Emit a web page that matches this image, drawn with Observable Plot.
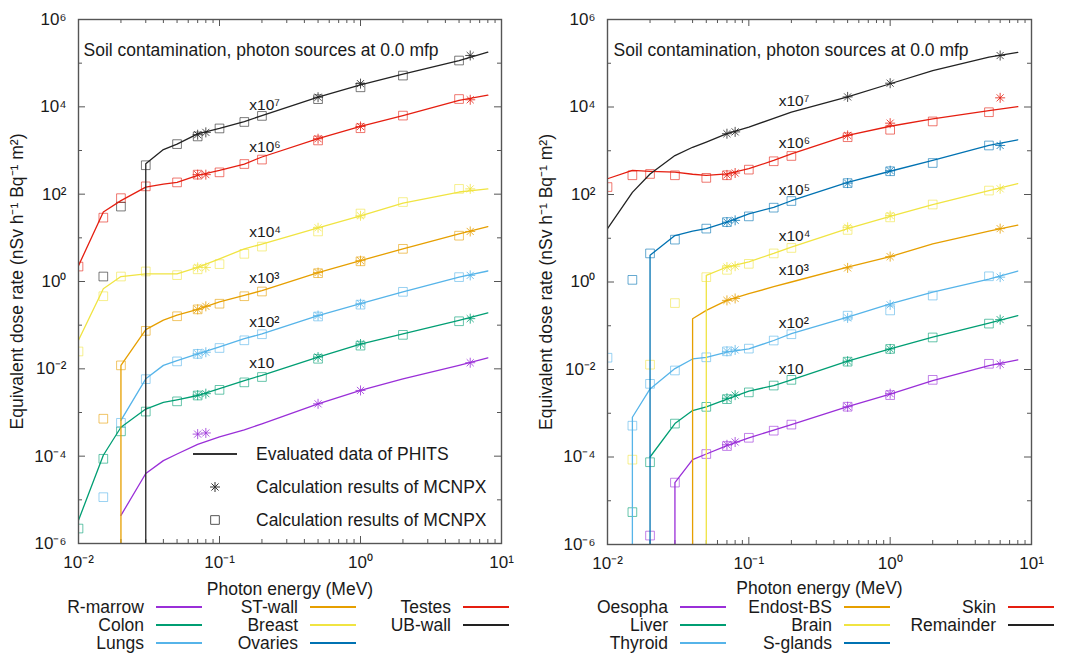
<!DOCTYPE html>
<html><head><meta charset="utf-8">
<script src="https://cdn.jsdelivr.net/npm/d3@7"></script>
<script src="https://cdn.jsdelivr.net/npm/@observablehq/plot@0.6"></script>
<style>
body{margin:0;background:#fff;font-family:"Liberation Sans",Arial,Helvetica,sans-serif;}
#root{position:relative;width:1073px;height:654px;overflow:hidden;background:#fff;}
.panel{position:absolute;top:0;}
.txt{position:absolute;font-size:17.5px;color:#1a1a1a;white-space:nowrap;line-height:16px;}
.sw{position:absolute;height:1.6px;}
#root g[aria-label="x-axis tick label"] text, #root g[aria-label="y-axis tick label"] text{font-size:17px;}
#root g[aria-label="x-axis label"] text, #root g[aria-label="y-axis label"] text{font-size:17.5px;}
</style></head><body><div id="root"></div><script>
// ---------- shared axes / energies ----------
const lineE   = [0.01,0.015,0.02,0.03,0.04,0.05,0.07,0.1,0.15,0.2,0.5,1,2,5,8];
const squareE = [0.01,0.015,0.02,0.03,0.05,0.07,0.1,0.15,0.2,0.5,1,2,5];
const starE   = [0.07,0.08,0.5,1,6];
const xTicks = [0.01,0.1,1,10];
const yTicks = [1e-6,1e-4,1e-2,1,1e2,1e4,1e6];
const yMinorTicks = [1e-5,1e-3,1e-1,1e1,1e3,1e5];
const palette = ["#9a2fd8","#009e73","#56b4e9","#e69f00","#f0e442","#0072b2","#e51e10","#222222"];
const titleText = "Soil contamination, photon sources at 0.0 mfp";
const xLabel = "Photon energy (MeV)";
const yLabel = "Equivalent dose rate (nSv h\u207B\u00B9 Bq\u207B\u00B9 m\u00B2)";
const legendInside = ["Evaluated data of PHITS","Calculation results of MCNPX","Calculation results of MCNPX"];

// ---------- left panel ----------
const leftNames  = ["R-marrow","Colon","Lungs","ST-wall","Breast","Ovaries","Testes","UB-wall"];
const leftLabels = [null,"x10","x10\u00B2","x10\u00B3","x10\u2074",null,"x10\u2076","x10\u2077"];
const rmarrowLine = [null,null,4.4e-6,4.0e-5,7.9e-5,1.12e-4,1.86e-4,2.75e-4,4.0e-4,5.5e-4,1.58e-3,3.2e-3,5.9e-3,0.012,0.0178];
const colonLine   = [3.4e-6,1.05e-4,4.6e-4,1.2e-3,1.7e-3,1.95e-3,2.45e-3,3.5e-3,5.4e-3,7.1e-3,0.0186,0.037,0.063,0.129,0.19];
const lungsLine   = [null,null,6.6e-4,5.9e-3,0.012,0.0155,0.022,0.032,0.049,0.063,0.166,0.31,0.58,1.26,1.74];
const stwallLine  = [null,null,0.012,0.079,0.13,0.17,0.23,0.34,0.48,0.62,1.6,3.0,5.6,12.3,18];
const breastLine  = [0.045,0.68,1.3,1.5,1.5,1.5,2.1,3.3,5.6,7.2,17,32,62,112,132];
const testesLine  = [2.3,39,71,145,170,186,270,350,490,710,1860,3550,6300,1.41e4,1.86e4];
const ubwallLine  = [null,null,null,500,1050,1400,2400,3200,4600,6300,1.66e4,3.2e4,5.6e4,1.15e5,1.78e5];
const colonSq  = [2.2e-6,8.7e-5,3.7e-4,1.05e-3,1.8e-3,2.45e-3,3.3e-3,4.9e-3,6.5e-3,0.017,0.034,0.06,0.123];
const lungsSq  = [null,1.15e-5,5.8e-4,5.8e-3,0.0148,0.022,0.030,0.045,0.062,0.158,0.295,0.58,1.26];
const stwallSq = [null,7.2e-4,0.012,0.074,0.16,0.23,0.31,0.46,0.59,1.55,2.9,5.6,11.2];
const breastSq = [0.025,0.46,1.3,1.7,1.4,1.9,2.5,4.3,6.3,14,36,66,132];
const testesSq = [2.2,29,81,151,186,280,316,490,620,1700,3240,6300,1.51e4];
const ubwallSq = [null,1.3,52,460,1400,2100,3200,4500,6200,1.5e4,2.8e4,5.2e4,1.15e5];
const rmarrowSt = [3.2e-4,3.4e-4,1.58e-3,3.2e-3,0.0138];
const colonSt   = [2.5e-3,2.7e-3,0.0186,0.037,0.141];
const lungsSt   = [0.022,0.024,0.166,0.31,1.38];
const stwallSt  = [0.23,0.27,1.6,3.0,14];
const breastSt  = [2.1,2.1,17,32,132];
const testesSt  = [280,280,1860,3550,1.45e4];
const ubwallSt  = [2300,2600,1.66e4,3.4e4,1.5e5];

// ---------- right panel ----------
const rightNames  = ["Oesopha","Liver","Thyroid","Endost-BS","Brain","S-glands","Skin","Remainder"];
const rightLabels = [null,"x10","x10\u00B2","x10\u00B3","x10\u2074","x10\u2075","x10\u2076","x10\u2077"];
const oesophaLine = [null,null,null,2.6e-5,8.7e-5,1.17e-4,1.82e-4,2.75e-4,4.1e-4,5.5e-4,1.41e-3,2.75e-3,5.6e-3,0.0123,0.0166];
const liverLine   = [null,null,1.0e-4,5.8e-4,1.15e-3,1.4e-3,2.1e-3,3.2e-3,4.3e-3,5.8e-3,0.0155,0.0295,0.055,0.115,0.17];
const thyroidLine = [null,8.1e-4,3.6e-3,0.0105,0.0174,0.019,0.025,0.0295,0.046,0.066,0.158,0.316,0.59,1.17,1.78];
const endostLine  = [null,null,null,null,0.145,0.224,0.38,0.54,0.78,1.0,2.2,3.8,7.4,14.5,20];
const brainLine   = [null,null,null,null,null,1.41,2.2,2.9,4.5,6.3,16.6,31.6,59,123,178];
const sglandsLine = [null,null,4.1,11.5,14.5,16.6,23.4,36,51,72,190,340,600,1320,1780];
const skinLine    = [229,355,339,324,290,275,295,390,600,850,2240,3630,5370,8300,1.02e4];
const remainLine  = [16.6,112,295,776,1200,1580,2450,3470,5500,7600,1.7e4,3.4e4,6.8e4,1.38e5,1.78e5];
const oesophaSq = [null,null,1.6e-6,2.6e-5,1.17e-4,1.78e-4,2.75e-4,4.0e-4,5.5e-4,1.41e-3,2.6e-3,5.8e-3,0.0135];
const liverSq   = [null,5.5e-6,7.6e-5,5.8e-4,1.4e-3,2.1e-3,3.0e-3,4.3e-3,5.8e-3,0.0151,0.0295,0.054,0.112];
const thyroidSq = [0.0186,5.2e-4,4.7e-3,9.5e-3,0.019,0.026,0.030,0.046,0.064,0.17,0.224,0.49,1.35];
const brainSq   = [null,8.7e-5,0.0129,0.33,1.29,1.9,2.6,4.5,6.0,15.5,30,59,123];
const sglandsSq = [null,1.12,4.5,9.3,16.6,23.4,31.6,50,71,182,340,525,1320];
const skinSq    = [148,275,295,275,240,275,370,575,760,2040,3020,4680,7600];
const oesophaSt = [1.9e-4,2.2e-4,1.41e-3,2.8e-3,0.0132];
const liverSt   = [2.2e-3,2.6e-3,0.0155,0.0295,0.138];
const thyroidSt = [0.026,0.028,0.151,0.30,1.29];
const endostSt  = [0.38,0.42,2.1,3.8,16.6];
const brainSt   = [2.2,2.3,17.8,33,135];
const sglandsSt = [23.4,25.7,182,350,1320];
const skinSt    = [280,310,2240,4270,1.62e4];
const remainSt  = [2450,2700,1.7e4,3.5e4,1.5e5];

// series that drop to (effectively) zero below their first energy
const ZERO = 1e-9;
const leftSeries = [
  {line: rmarrowLine, sq: null,     st: rmarrowSt, drop:false},
  {line: colonLine,   sq: colonSq,  st: colonSt,   drop:false},
  {line: lungsLine,   sq: lungsSq,  st: lungsSt,   drop:false},
  {line: stwallLine,  sq: stwallSq, st: stwallSt,  drop:true},
  {line: breastLine,  sq: breastSq, st: breastSt,  drop:false},
  {line: null,        sq: null,     st: null,      drop:false},
  {line: testesLine,  sq: testesSq, st: testesSt,  drop:false},
  {line: ubwallLine,  sq: ubwallSq, st: ubwallSt,  drop:true}
].map((s,i)=>({...s, name:leftNames[i], label:leftLabels[i], color:palette[i]}));
const rightSeries = [
  {line: oesophaLine, sq: oesophaSq, st: oesophaSt, drop:true},
  {line: liverLine,   sq: liverSq,   st: liverSt,   drop:false},
  {line: thyroidLine, sq: thyroidSq, st: thyroidSt, drop:true},
  {line: endostLine,  sq: null,      st: endostSt,  drop:true},
  {line: brainLine,   sq: brainSq,   st: brainSt,   drop:true},
  {line: sglandsLine, sq: sglandsSq, st: sglandsSt, drop:true},
  {line: skinLine,    sq: skinSq,    st: skinSt,    drop:false},
  {line: remainLine,  sq: null,      st: remainSt,  drop:false}
].map((s,i)=>({...s, name:rightNames[i], label:rightLabels[i], color:palette[i]}));

// ---------- helpers ----------
const SUP = {"-":"\u207B","0":"\u2070","1":"\u00B9","2":"\u00B2","3":"\u00B3","4":"\u2074","5":"\u2075","6":"\u2076","7":"\u2077","8":"\u2078","9":"\u2079"};
const pow10 = d => "10" + String(Math.round(Math.log10(d))).split("").map(c=>SUP[c]).join("");
const xMinorTicks = [0.01,0.1,1].flatMap(b => d3.range(2,10).map(k => b*k));
const star8 = {draw(ctx, size){ const r = Math.sqrt(size/Math.PI), d = r*Math.SQRT1_2;
  ctx.moveTo(-r,0); ctx.lineTo(r,0); ctx.moveTo(0,-r); ctx.lineTo(0,r);
  ctx.moveTo(-d,-d); ctx.lineTo(d,d); ctx.moveTo(-d,d); ctx.lineTo(d,-d); }};
const FONT = '"Liberation Sans", Arial, Helvetica, sans-serif';

function rowsOf(E, vals){ return vals ? E.map((e,i)=>({E:e, v:vals[i]})).filter(d=>d.v!=null) : []; }

function makePanel(series, cfg){
  const {width, height, ml, mr, mt, mb} = cfg;
  const iw = width-ml-mr, ih = height-mt-mb;
  const frameC = "#555";
  const marks = [
    Plot.ruleX(xTicks, {x:d=>d, insetTop:ih-7, stroke:frameC, strokeWidth:1}),
    Plot.ruleX(xTicks, {x:d=>d, insetBottom:ih-7, stroke:frameC, strokeWidth:1}),
    Plot.ruleX(xMinorTicks, {x:d=>d, insetTop:ih-4, stroke:frameC, strokeWidth:1}),
    Plot.ruleX(xMinorTicks, {x:d=>d, insetBottom:ih-4, stroke:frameC, strokeWidth:1}),
    Plot.ruleY(yTicks, {y:d=>d, insetRight:iw-7, stroke:frameC, strokeWidth:1}),
    Plot.ruleY(yTicks, {y:d=>d, insetLeft:iw-7, stroke:frameC, strokeWidth:1}),
    Plot.ruleY(yMinorTicks, {y:d=>d, insetRight:iw-4, stroke:frameC, strokeWidth:1}),
    Plot.ruleY(yMinorTicks, {y:d=>d, insetLeft:iw-4, stroke:frameC, strokeWidth:1}),
    Plot.axisX({ticks:xTicks, tickFormat:pow10, tickSize:0, tickPadding:12,
      label:xLabel, labelAnchor:"center", labelOffset:cfg.xLabelOffset, labelArrow:"none"}),
    Plot.axisY({ticks:yTicks, tickFormat:pow10, tickSize:0, tickPadding:12,
      label:yLabel, labelAnchor:"center", labelOffset:cfg.labelOffset, labelArrow:"none"})
  ];
  for (const s of series){
    if (s.sq) marks.push(Plot.dot(rowsOf(squareE, s.sq), {x:"E", y:"v", symbol:"square", r:4.9,
      stroke:s.color, strokeOpacity:0.6, strokeWidth:1, fill:"none", clip:true}));
    if (s.st) marks.push(Plot.dot(rowsOf(starE, s.st), {x:"E", y:"v", symbol:star8, r:5,
      stroke:s.color, strokeOpacity:0.8, strokeWidth:1, fill:"none", clip:true}));
  }
  for (const s of series){
    if (!s.line) continue;
    let rows = rowsOf(lineE, s.line);
    if (s.drop) rows = [{E:rows[0].E, v:ZERO}, ...rows];
    marks.push(Plot.line(rows, {x:"E", y:"v", stroke:s.color, strokeWidth:1.3, clip:true}));
    if (s.label){
      const k = lineE.indexOf(0.15);
      marks.push(Plot.text([{E:lineE[k], v:s.line[k], t:s.label}], {x:"E", y:"v", text:"t",
        dx:5, dy:-17, textAnchor:"start", fontSize:15.5, fill:"#1a1a1a"}));
    }
  }
  marks.push(Plot.text([titleText], {frameAnchor:"top-left", dx:cfg.titleDx, dy:24,
    textAnchor:"start", fontSize:17.5, fill:"#1a1a1a"}));
  marks.push(Plot.frame({stroke:frameC, strokeWidth:1.4}));
  return Plot.plot({width, height, marginLeft:ml, marginRight:mr, marginTop:mt, marginBottom:mb,
    x:{type:"log", domain:[0.01,10]}, y:{type:"log", domain:[1e-6,1e6]},
    style:{fontFamily:FONT, fontSize:"15px", color:"#1a1a1a", background:"#fff", overflow:"visible"},
    marks});
}

const root = document.getElementById("root");
function place(el, left){ const d = document.createElement("div"); d.className="panel"; d.style.left=left+"px"; d.appendChild(el); root.appendChild(d); }
place(makePanel(leftSeries, {width:536, height:600, ml:78, mr:35, mt:19, mb:57, labelOffset:68, xLabelOffset:51, titleDx:5}), 0);
place(makePanel(rightSeries, {width:537, height:600, ml:71, mr:42, mt:19, mb:56, labelOffset:68, xLabelOffset:49, titleDx:6}), 536);

// ---------- bottom legends ----------
function addText(str, x, y, align){
  const d = document.createElement("div"); d.className="txt"; d.textContent=str;
  if (align==="right"){ d.style.left=(x-220)+"px"; d.style.width="220px"; d.style.textAlign="right"; }
  else d.style.left=x+"px";
  d.style.top=(y-8)+"px"; root.appendChild(d);
}
function addSwatch(color, x, y, w){
  const d = document.createElement("div"); d.className="sw"; d.style.left=x+"px"; d.style.top=(y-0.8)+"px";
  d.style.width=w+"px"; d.style.background=color; root.appendChild(d);
}
const rowY = [607,625,643];
function legend(series, colRight){
  series.forEach((s,i)=>{
    const c = Math.floor(i/3), r = i%3;
    addText(s.name, colRight[c], rowY[r], "right");
    addSwatch(s.color, colRight[c]+12, rowY[r], 46);
  });
}
legend(leftSeries, [144,298,451]);
legend(rightSeries, [668,832,996]);

// ---------- key inside left panel ----------
addSwatch("#333", 193, 454, 44);
addText(legendInside[0], 256, 454);
addText(legendInside[1], 256, 487);
addText(legendInside[2], 256, 520);
const key = d3.select(root).append("svg").style("position","absolute").style("left","205px").style("top","477px")
  .attr("width",20).attr("height",54);
key.append("path").attr("d", d3.symbol(star8, 25*Math.PI)()).attr("transform","translate(10,10)")
  .attr("stroke","#333").attr("fill","none");
key.append("path").attr("d", d3.symbol(d3.symbolSquare, 4.9*4.9*Math.PI)()).attr("transform","translate(10,43)")
  .attr("stroke","#555").attr("fill","none");
</script></body></html>
